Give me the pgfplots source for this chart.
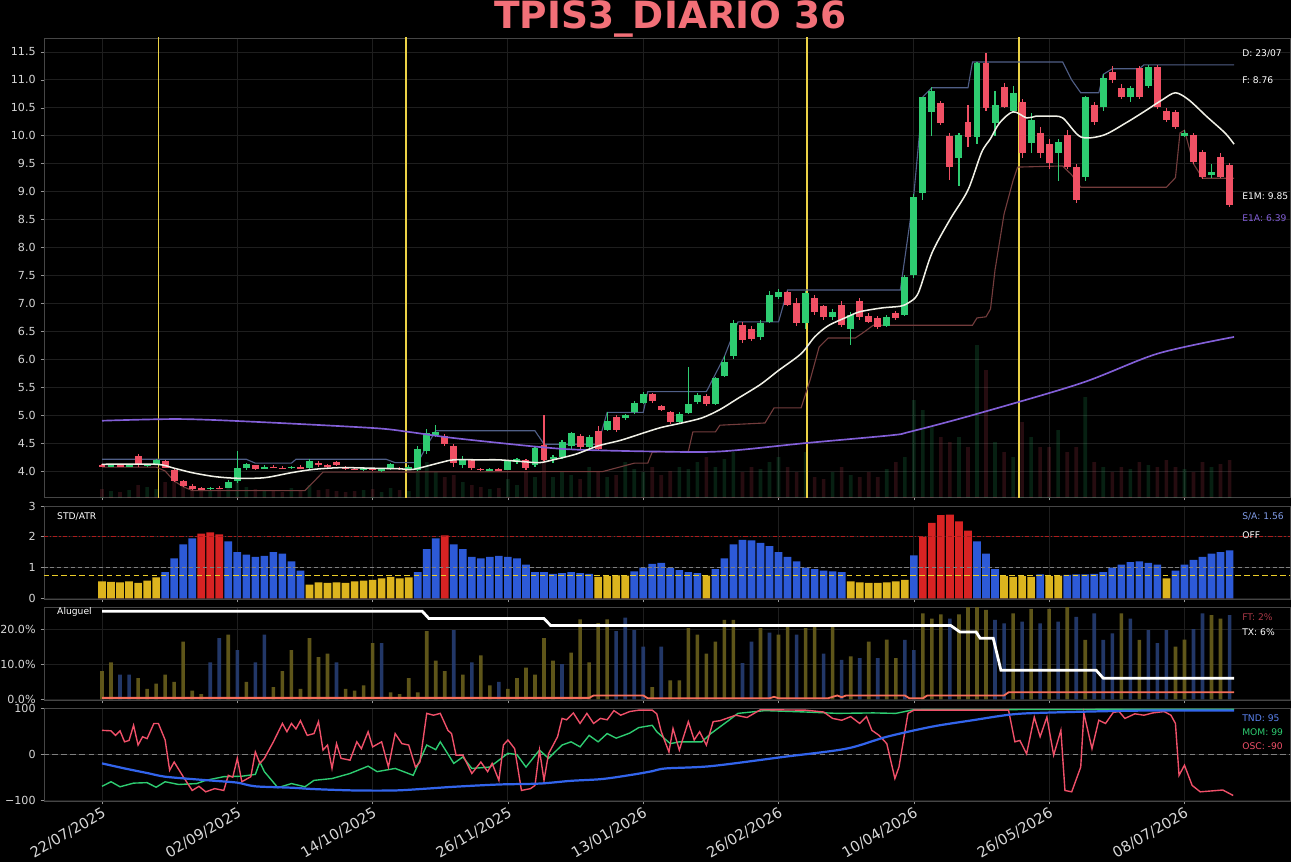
\documentclass[border=0pt]{standalone}
\usepackage{fontspec}
\setmainfont{DejaVu Sans}
\usepackage{pgfplots}
\usepackage{pgfplotstable}
\pgfplotsset{compat=1.18}
\definecolor{framec}{RGB}{70,70,70}
\definecolor{tickc}{RGB}{150,150,150}
\definecolor{gridc}{RGB}{30,30,30}
\definecolor{labelc}{RGB}{215,215,215}
\definecolor{cgreen}{RGB}{46,204,113}
\definecolor{cred}{RGB}{240,80,100}
\definecolor{emac}{RGB}{240,240,230}
\definecolor{purplec}{RGB}{130,95,215}
\definecolor{bandhi}{RGB}{80,95,135}
\definecolor{bandlo}{RGB}{115,60,60}
\definecolor{vlinec}{RGB}{235,210,70}
\definecolor{byel}{RGB}{220,180,30}
\definecolor{dashy}{RGB}{235,205,40}
\definecolor{bblue}{RGB}{45,90,215}
\definecolor{bred}{RGB}{215,35,35}
\definecolor{olivec}{RGB}{105,95,28}
\definecolor{dblue}{RGB}{38,62,115}
\definecolor{coralc}{RGB}{245,110,90}
\definecolor{tndc}{RGB}{50,100,235}
\definecolor{momc}{RGB}{46,204,113}
\definecolor{oscc}{RGB}{240,80,105}
\definecolor{titlec}{RGB}{242,112,120}
\newcommand{\tickfont}{\fontsize{8}{9.6}\selectfont}
\newcommand{\annofont}{\fontsize{6.6}{8}\selectfont}
\tikzset{anno/.style={anchor=west, inner sep=0pt, font=\annofont}}

\pgfplotstableread{
i o h l c v
0 4.10 4.13 4.07 4.09 8
2 4.09 4.12 4.07 4.10 6
4 4.10 4.12 4.08 4.09 5
6 4.09 4.11 4.07 4.10 7
8 4.27 4.30 4.08 4.10 12
10 4.10 4.13 4.08 4.12 10
12 4.12 4.22 4.11 4.20 8
14 4.18 4.20 4.05 4.06 15
16 4.02 4.04 3.80 3.82 20
18 3.82 3.84 3.72 3.74 12
20 3.74 3.76 3.66 3.68 10
22 3.69 3.71 3.66 3.68 8
24 3.68 3.72 3.66 3.70 6
26 3.70 3.73 3.67 3.69 9
28 3.70 3.84 3.69 3.80 10
30 3.82 4.35 3.78 4.05 18
32 4.05 4.14 4.02 4.12 10
34 4.10 4.11 4.02 4.04 8
36 4.04 4.10 4.03 4.08 6
38 4.08 4.10 4.05 4.07 7
40 4.06 4.09 4.03 4.05 5
42 4.05 4.09 4.04 4.08 9
44 4.07 4.10 4.04 4.05 6
46 4.05 4.21 4.04 4.18 12
48 4.15 4.18 4.08 4.10 7
50 4.10 4.12 4.06 4.08 8
52 4.16 4.18 4.09 4.10 6
54 4.08 4.09 4.02 4.04 5
56 4.04 4.06 4.01 4.03 6
58 4.02 4.06 4.00 4.05 7
60 4.04 4.06 4.00 4.02 8
62 4.02 4.05 3.98 4.03 5
64 4.03 4.14 4.02 4.12 9
66 4.06 4.08 4.02 4.04 7
68 4.04 4.10 4.01 4.08 6
70 4.02 4.45 4.00 4.40 30
72 4.35 4.75 4.30 4.68 35
74 4.64 4.82 4.60 4.70 25
76 4.62 4.66 4.44 4.48 20
78 4.45 4.48 4.08 4.15 22
80 4.10 4.26 4.05 4.22 15
82 4.20 4.22 4.02 4.05 12
84 4.04 4.06 4.00 4.02 10
86 4.02 4.05 4.00 4.03 8
88 4.03 4.05 4.00 4.02 9
90 4.02 4.20 4.01 4.18 18
92 4.16 4.24 4.12 4.22 12
94 4.20 4.22 4.02 4.05 25
96 4.10 4.45 4.08 4.42 20
98 4.46 5.00 4.18 4.20 40
100 4.22 4.28 4.15 4.25 20
102 4.25 4.55 4.22 4.52 25
104 4.45 4.70 4.40 4.68 22
106 4.62 4.66 4.40 4.43 18
108 4.43 4.65 4.40 4.60 30
110 4.72 4.80 4.36 4.40 25
112 4.74 5.05 4.72 4.90 20
114 4.96 5.00 4.70 4.74 22
116 4.95 5.02 4.92 5.00 35
118 5.05 5.25 5.02 5.22 28
120 5.22 5.42 5.20 5.38 25
122 5.38 5.40 5.22 5.25 30
124 5.16 5.18 5.08 5.10 22
126 5.05 5.08 4.84 4.87 26
128 4.88 5.05 4.85 5.02 30
130 5.04 5.86 5.02 5.20 28
132 5.24 5.40 5.20 5.36 35
134 5.34 5.38 5.16 5.20 40
136 5.20 5.68 5.18 5.66 30
138 5.70 6.05 5.68 5.95 38
140 6.05 6.70 6.00 6.65 45
142 6.62 6.66 6.30 6.35 25
144 6.55 6.60 6.32 6.36 30
146 6.40 6.70 6.35 6.65 28
148 6.67 7.22 6.65 7.15 35
150 7.12 7.25 7.08 7.20 40
152 7.20 7.22 6.95 6.98 30
154 7.00 7.10 6.60 6.65 25
156 6.65 7.22 6.55 7.18 45
158 7.10 7.15 6.80 6.85 20
160 6.95 6.98 6.70 6.75 18
162 6.75 6.90 6.70 6.85 25
164 6.98 7.05 6.58 6.62 30
166 6.55 6.85 6.25 6.80 22
168 7.05 7.10 6.70 6.76 20
170 6.78 6.82 6.65 6.67 25
172 6.74 6.78 6.55 6.58 20
174 6.60 6.80 6.58 6.76 28
176 6.82 6.86 6.70 6.74 35
178 6.80 7.50 6.78 7.48 40
180 7.50 8.95 7.45 8.90 97
182 8.97 10.70 8.85 10.69 87
184 10.43 10.88 10.00 10.80 70
186 10.59 10.62 10.20 10.23 60
188 10.00 10.05 9.20 9.44 55
190 9.60 10.05 9.10 10.01 60
192 10.25 10.55 9.80 9.98 50
194 9.98 11.32 9.85 11.30 152
196 11.30 11.48 10.45 10.50 127
198 10.23 10.80 10.00 10.55 55
200 10.87 10.95 10.50 10.52 45
202 10.45 10.90 10.40 10.77 40
204 10.60 10.65 9.60 9.69 75
206 9.87 10.40 9.70 10.28 60
208 10.05 10.15 9.60 9.69 50
210 9.85 9.95 9.40 9.51 50
212 9.69 9.95 9.20 9.89 67
214 10.01 10.10 9.40 9.44 45
216 9.44 9.50 8.80 8.85 50
218 9.26 10.72 9.20 10.69 100
220 10.55 10.60 10.20 10.25 35
222 10.51 11.10 10.45 11.03 30
224 11.14 11.25 10.95 11.00 25
226 10.86 10.92 10.65 10.69 30
228 10.69 10.90 10.60 10.86 28
230 11.21 11.25 10.65 10.69 35
232 10.90 11.26 10.85 11.23 32
234 11.23 11.26 10.48 10.51 30
236 10.45 10.50 10.25 10.28 37
238 10.43 10.46 10.12 10.16 30
240 10.00 10.10 9.98 10.05 28
242 10.01 10.05 9.50 9.53 25
244 9.71 9.75 9.22 9.26 35
246 9.30 9.50 9.25 9.35 30
248 9.62 9.70 9.24 9.26 33
250 9.48 9.52 8.72 8.76 37
}\candles

\pgfplotstableread{
i v k
0 .55 0
2 .54 0
4 .52 0
6 .55 0
8 .50 0
10 .58 0
12 .68 0
14 .85 1
16 1.30 1
18 1.75 1
20 1.95 1
22 2.10 2
24 2.14 2
26 2.08 2
28 1.85 1
30 1.50 1
32 1.42 1
34 1.35 1
36 1.38 1
38 1.50 1
40 1.45 1
42 1.20 1
44 0.90 1
46 .45 0
48 .52 0
50 .50 0
52 .52 0
54 .50 0
56 .55 0
58 .58 0
60 .60 0
62 .65 0
64 .70 0
66 .65 0
68 .68 0
70 .85 1
72 1.60 1
74 1.95 1
76 2.05 2
78 1.75 1
80 1.60 1
82 1.35 1
84 1.30 1
86 1.35 1
88 1.38 1
90 1.35 1
92 1.30 1
94 1.10 1
96 0.85 1
98 0.85 1
100 0.80 1
102 0.82 1
104 0.85 1
106 0.82 1
108 0.80 1
110 .70 0
112 .72 0
114 .75 0
116 .74 0
118 0.88 1
120 1.00 1
122 1.12 1
124 1.15 1
126 0.98 1
128 0.92 1
130 0.85 1
132 0.82 1
134 .74 0
136 0.95 1
138 1.30 1
140 1.75 1
142 1.90 1
144 1.88 1
146 1.80 1
148 1.70 1
150 1.50 1
152 1.35 1
154 1.20 1
156 1.00 1
158 0.95 1
160 0.90 1
162 0.88 1
164 0.85 1
166 .55 0
168 .52 0
170 .50 0
172 .50 0
174 .52 0
176 .55 0
178 .60 0
180 1.40 1
182 2.00 2
184 2.45 2
186 2.70 2
188 2.72 2
190 2.50 2
192 2.20 2
194 1.85 1
196 1.45 1
198 0.95 1
200 .72 0
202 .70 0
204 .72 0
206 .70 0
208 .78 1
210 .72 0
212 .74 0
214 .76 1
216 .78 1
218 .78 1
220 .80 1
222 .85 1
224 1.00 1
226 1.10 1
228 1.18 1
230 1.20 1
232 1.15 1
234 1.10 1
236 .65 0
238 0.90 1
240 1.10 1
242 1.25 1
244 1.35 1
246 1.45 1
248 1.50 1
250 1.56 1
}\stdatr

\pgfplotstableread{
i v k
0 8 0
2 10.5 0
4 7 1
6 7 1
8 6 0
10 3 0
12 4.5 0
14 7 0
16 5 0
18 16.4 0
20 2.5 0
22 1.5 0
24 10.5 1
26 17.4 1
28 18.4 0
30 14 1
32 5 0
34 10.5 1
36 18.4 1
38 3.5 0
40 8 0
42 14 0
44 3 0
46 17.4 0
48 12 0
50 13 0
52 10.5 1
54 3 0
56 2.5 0
58 4 0
60 16 0
62 16 1
64 2 0
66 1.5 0
68 6 0
70 2 0
72 19.4 0
74 11 0
76 8 0
78 19.7 1
80 7 0
82 10.5 1
84 12.5 0
86 4 0
88 5 1
90 3 0
92 6 0
94 9 0
96 7 0
98 17.4 0
100 11 0
102 10 1
104 13.3 0
106 22.8 0
108 10.5 0
110 21.7 0
112 22.8 0
114 19.4 1
116 23.3 1
118 19.7 1
120 15 1
122 3.5 0
124 15 1
126 5.4 0
128 5.4 0
130 20.3 0
132 18.4 0
134 13 0
136 16.4 0
138 22.6 0
140 22.6 0
142 10.3 1
144 16.4 1
146 20.3 0
148 19 1
150 18.4 0
152 21 0
154 18.4 1
156 20.3 0
158 21 0
160 13 1
162 21.3 0
164 11.2 1
166 12.2 0
168 11.7 1
170 16.4 0
172 11.7 1
174 17 0
176 11.7 0
178 16.9 1
180 14 1
182 24.5 0
184 23 0
186 24.2 0
188 23 1
190 24.2 0
192 26.3 0
194 26.3 0
196 25.5 0
198 22.6 1
200 21.6 1
202 24.5 0
204 22.1 1
206 25.8 0
208 21.6 1
210 25.8 0
212 22.1 1
214 26.3 0
216 23.5 1
218 16.9 0
220 24.5 1
222 16.9 1
224 18.8 1
226 24.5 0
228 23 1
230 16.9 0
232 19.7 1
234 16 1
236 19.7 1
238 15 0
240 17 0
242 20 1
244 24.5 1
246 24 0
248 23 0
250 24 1
}\aluguel

\pgfplotsset{
  panel/.style={
    scale only axis, width=897.12pt, xmin=-12.86, xmax=263.4,
    axis background/.style={fill=black},
    axis line style={draw=framec, line width=0.6pt},
    tick style={draw=tickc, line width=0.5pt},
    major tick length=2.5pt, tick align=outside, tick pos=left,
    xtick={0,30,...,240},
    xmajorgrids, ymajorgrids, grid style={draw=gridc, line width=0.7pt},
    ticklabel style={text=labelc, font=\tickfont},
    /pgf/number format/assume math mode=true,
    clip=true,
  },
}

\begin{document}
\begin{tikzpicture}
\useasboundingbox[fill=black] (-31.68pt,27.36pt) rectangle (897.84pt,-593.28pt);
\node[anchor=base, text=titlec, font=\fontsize{27}{30}\selectfont\bfseries] at (451.1pt,6.5pt) {TPIS3\_DIARIO 36};

% ---------- Panel 1: price ----------
\begin{axis}[panel, at={(0pt,0pt)}, anchor=north west, height=330.48pt,
  ymin=3.5346, ymax=11.7506, ytick={4,4.5,5,5.5,6,6.5,7,7.5,8,8.5,9,9.5,10,10.5,11,11.5},
  yticklabel style={/pgf/number format/.cd, fixed, fixed zerofill, precision=1},
  xticklabel=\empty]
% volume
\addplot[ybar, bar width=2.6pt, bar shift=0pt, draw=none, fill=cgreen, fill opacity=0.16, forget plot]
  table[x=i, y expr={\thisrow{c}<\thisrow{o} ? 0 : 3.5346+\thisrow{v}/55.87}] \candles;
\addplot[ybar, bar width=2.6pt, bar shift=0pt, draw=none, fill=cred, fill opacity=0.16, forget plot]
  table[x=i, y expr={\thisrow{c}<\thisrow{o} ? 3.5346+\thisrow{v}/55.87 : 0}] \candles;
% event lines
\addplot[vlinec, line width=0.9pt, mark=none] coordinates {(12.45,3.5) (12.45,12)};
\addplot[vlinec, line width=0.9pt, mark=none] coordinates {(67.4,3.5) (67.4,12)};
\addplot[vlinec, line width=0.9pt, mark=none] coordinates {(156.3,3.5) (156.3,12)};
\addplot[vlinec, line width=0.9pt, mark=none] coordinates {(203.3,3.5) (203.3,12)};
% bands
\addplot[bandhi, line width=0.8pt, mark=none] coordinates {(0,4.21) (32,4.21) (34,4.14) (42,4.14) (43,4.21) (63,4.21) (65,4.15) (70,4.15) (72,4.45) (74,4.72) (96,4.72) (98,4.48) (110,4.48) (112,5.05) (120,5.05) (121,5.42) (134,5.42) (138,6.05) (141,6.67) (150,6.67) (152,7.24) (177,7.24) (180,8.95) (182,10.7) (184,10.86) (192,10.86) (193,11.32) (213,11.32) (215,11.0) (217,10.77) (221,10.77) (222,11.1) (224,11.2) (230,11.2) (231,11.27) (251,11.27)};
\addplot[bandlo, line width=0.8pt, mark=none] coordinates {(0,4.07) (12,4.07) (14,4.0) (16,3.82) (18,3.72) (20,3.65) (45,3.65) (49,3.98) (111,3.99) (118,4.14) (121,4.14) (122,4.34) (130,4.35) (131,4.7) (136,4.7) (137,4.82) (147,4.86) (149,5.13) (155,5.13) (157,5.63) (159,6.22) (161,6.38) (167,6.38) (169,6.49) (171,6.61) (193,6.61) (194,6.74) (196,6.76) (197,6.9) (198,7.6) (200,8.6) (202,9.2) (203,9.44) (213,9.46) (215,9.3) (217,9.08) (236,9.08) (238,9.25) (239,10.05) (240,10.1) (242,9.5) (244,9.24) (251,9.24)};
% wicks
\addplot[draw=none, mark=none, forget plot, error bars/.cd, y dir=both, y explicit, error mark=none,
  error bar style={draw=cgreen, line width=0.8pt}]
  table[x=i, y expr={(\thisrow{h}+\thisrow{l})/2}, y error expr={\thisrow{c}<\thisrow{o} ? 0 : (\thisrow{h}-\thisrow{l})/2}] \candles;
\addplot[draw=none, mark=none, forget plot, error bars/.cd, y dir=both, y explicit, error mark=none,
  error bar style={draw=cred, line width=0.8pt}]
  table[x=i, y expr={(\thisrow{h}+\thisrow{l})/2}, y error expr={\thisrow{c}<\thisrow{o} ? (\thisrow{h}-\thisrow{l})/2 : 0}] \candles;
% bodies
\addplot[draw=none, mark=none, forget plot, error bars/.cd, y dir=both, y explicit, error mark=none,
  error bar style={draw=cgreen, line width=5pt}]
  table[x=i, y expr={(\thisrow{o}+\thisrow{c})/2}, y error expr={\thisrow{c}<\thisrow{o} ? 0 : (\thisrow{c}-\thisrow{o})/2}] \candles;
\addplot[draw=none, mark=none, forget plot, error bars/.cd, y dir=both, y explicit, error mark=none,
  error bar style={draw=cred, line width=5pt}]
  table[x=i, y expr={(\thisrow{o}+\thisrow{c})/2}, y error expr={\thisrow{c}<\thisrow{o} ? (\thisrow{o}-\thisrow{c})/2 : 0}] \candles;
% long EMA
\addplot[purplec, line width=1.2pt, smooth, mark=none] coordinates {(0,4.9) (17,4.93) (34,4.88) (60,4.77) (68,4.70) (78,4.59) (97,4.43) (106,4.38) (122,4.35) (137,4.35) (156,4.5) (175,4.64) (179,4.7) (193,5.0) (217,5.57) (234,6.1) (251,6.4)};
% short EMA
\addplot[emac, line width=1.1pt, smooth, mark=none] coordinates {(0,4.12) (12,4.12) (16,4.05) (20,3.97) (25,3.90) (30,3.87) (36,3.88) (42,3.97) (47,4.03) (53,4.06) (60,4.05) (66,4.04) (69,4.03) (75,4.15) (78,4.20) (84,4.20) (88,4.20) (93,4.17) (97,4.15) (100,4.20) (105,4.30) (110,4.45) (115,4.55) (120,4.68) (124,4.78) (128,4.85) (133,4.95) (137,5.10) (141,5.30) (146,5.55) (150,5.80) (155,6.10) (158,6.40) (161,6.60) (165,6.75) (168,6.85) (173,6.92) (177,6.95) (179,7.02) (181,7.19) (184,7.90) (188,8.50) (192,9.03) (195,9.70) (197,9.95) (199,10.23) (202,10.43) (205,10.32) (207,10.35) (210,10.35) (213,10.32) (217,9.98) (222,10.01) (227,10.23) (231,10.43) (235,10.64) (238,10.77) (241,10.64) (245,10.34) (249,10.05) (251,9.85)};
\node[anno, text=white] at (rel axis cs:0.9615,0.967) {D: 23/07};
\node[anno, text=white] at (rel axis cs:0.9615,0.9085) {F: 8.76};
\node[anno, text=white] at (rel axis cs:0.9615,0.6558) {E1M: 9.85};
\node[anno, text=purplec] at (rel axis cs:0.9615,0.6078) {E1A: 6.39};
\end{axis}

% ---------- Panel 2: STD/ATR ----------
\begin{axis}[panel, at={(0pt,-336.96pt)}, anchor=north west, height=66.96pt,
  ymin=-0.02, ymax=3, ytick={0,1,2,3}, xticklabel=\empty]
\addplot[ybar, bar width=5.5pt, bar shift=0pt, draw=none, fill=byel] table[x=i, y expr={\thisrow{k}==0 ? \thisrow{v} : 0}] \stdatr;
\addplot[ybar, bar width=5.5pt, bar shift=0pt, draw=none, fill=bblue] table[x=i, y expr={\thisrow{k}==1 ? \thisrow{v} : 0}] \stdatr;
\addplot[ybar, bar width=5.5pt, bar shift=0pt, draw=none, fill=bred] table[x=i, y expr={\thisrow{k}==2 ? \thisrow{v} : 0}] \stdatr;
\addplot[bred!80!black, line width=0.7pt, dash pattern=on 3pt off 1.5pt on 1pt off 1.5pt, mark=none] coordinates {(-13,2) (264,2)};
\addplot[gray, line width=0.7pt, dash pattern=on 3pt off 2pt, mark=none] coordinates {(-13,1) (264,1)};
\addplot[dashy, line width=1pt, dash pattern=on 4pt off 2.5pt, mark=none] coordinates {(-13,0.75) (264,0.75)};
\node[anno, text=white] at (rel axis cs:0.0104,0.892) {STD/ATR};
\node[anno, text=bblue!60!white] at (rel axis cs:0.9615,0.892) {S/A: 1.56};
\node[anno, text=white] at (rel axis cs:0.9615,0.688) {OFF};
\end{axis}

% ---------- Panel 3: Aluguel ----------
\begin{axis}[panel, at={(0pt,-409.68pt)}, anchor=north west, height=66.96pt,
  ymin=-0.2, ymax=26.3, ytick={0,10,20}, yticklabels={0.0\%,10.0\%,20.0\%}, xticklabel=\empty]
\addplot[ybar, bar width=2.6pt, bar shift=0pt, draw=none, fill=olivec, fill opacity=0.9] table[x=i, y expr={\thisrow{k}==0 ? \thisrow{v} : 0}] \aluguel;
\addplot[ybar, bar width=2.6pt, bar shift=0pt, draw=none, fill=dblue, fill opacity=0.9] table[x=i, y expr={\thisrow{k}==1 ? \thisrow{v} : 0}] \aluguel;
\addplot[coralc, line width=1.3pt, mark=none] coordinates {(0,0.4) (108,0.4) (109,1.1) (120,1.1) (121,0.3) (148,0.3) (149,0.7) (150,0.3) (161,0.3) (163,1.1) (164,0.6) (165,1.1) (178,1.1) (179,0.3) (182,0.3) (183,1.1) (200,1.1) (201,2.0) (251,2.0)};
\addplot[white, line width=2pt, mark=none] coordinates {(0,25.1) (71,25.1) (72.5,23.0) (98,23.0) (99.5,21.0) (188.2,21.0) (190.2,19.2) (193.8,19.2) (194.7,17.4) (197.6,17.4) (199.3,8.3) (220.4,8.3) (222,6.0) (251,6.0)};
\node[anno, text=white] at (rel axis cs:0.0104,0.946) {Aluguel};
\node[anno, text=cred!70!black] at (rel axis cs:0.9615,0.892) {FT: 2\%};
\node[anno, text=white] at (rel axis cs:0.9615,0.731) {TX: 6\%};
\end{axis}

% ---------- Panel 4: oscillators ----------
\begin{axis}[panel, at={(0pt,-482.4pt)}, anchor=north west, height=66.96pt,
  ymin=-102, ymax=100.7, ytick={-100,0,100}, yticklabels={−100,0,100},
  xticklabels={22/07/2025,02/09/2025,14/10/2025,26/11/2025,13/01/2026,26/02/2026,10/04/2026,26/05/2026,08/07/2026},
  xticklabel style={rotate=30, anchor=north east, font=\fontsize{10.5}{12}\selectfont, inner sep=1pt}]
\addplot[gray, line width=0.8pt, dash pattern=on 4pt off 2.5pt, mark=none] coordinates {(-13,0) (264,0)};
\addplot[momc, line width=1pt, mark=none] coordinates {(0,-70) (2,-60) (4,-71) (7,-63) (10,-62) (12,-72) (14,-60) (17,-66) (21,-64) (23,-57) (27,-49) (31,-48) (34,-44) (35,-17) (36,-38) (39,-73) (42,-64) (45,-71) (47,-57) (51,-53) (55,-42) (59,-26) (61,-38) (65,-31) (69,-46) (72,20) (74,10) (75,27) (78,-20) (80,-6) (82,-31) (86,-28) (90,2) (92,-1) (94,-28) (97,9) (99,-9) (102,20) (104,27) (106,16) (108,41) (110,27) (112,45) (114,35) (117,46) (119,58) (122,63) (123,49) (126,23) (128,27) (133,27) (135,45) (139,74) (141,89) (147,95) (156,92) (163,89) (171,90) (176,89) (180,97) (251,98)};
\addplot[oscc, line width=1pt, mark=none] coordinates {(0,52) (2,51) (3,41) (4,51) (5,27) (6,30) (7,63) (8,20) (9,38) (10,34) (11.5,67) (12.5,67) (14,31) (15,-35) (16,-17) (18,-49) (20,-79) (21.5,-70) (23,-82) (25,-75) (27,-79) (28,-46) (29,-50) (30,-9) (31,-60) (33,-49) (34,5) (35,-20) (36,-9) (38,27) (40,67) (41,49) (42,67) (43,55) (44,73) (45.5,41) (47,45) (48,71) (49,9) (50,20) (51,-31) (52,23) (53,-9) (55,-13) (56.5,27) (57.5,12) (59,49) (60,16) (62,27) (63.5,-28) (65,45) (66.5,23) (68,20) (69.5,-28) (70.5,-17) (72,89) (73.5,85) (75,89) (76.7,52) (77.5,45) (78.5,-2) (80,-2) (82,-42) (84,-17) (85.5,-38) (86.5,-20) (88,-57) (89,20) (90,31) (91.5,12) (93,-79) (95,-75) (96,-68) (97,9) (98,-57) (99,1) (101,38) (102,78) (103,75) (104.5,90) (106,67) (107.5,89) (109,67) (110.5,78) (112,75) (113.5,95) (115,85) (117,93) (119,96) (122,96) (123,88) (124,49) (125.7,5) (126.6,56) (128,9) (130,71) (131.3,31) (132.5,49) (134,20) (135.5,71) (137,73) (140.5,85) (143,80) (146,97) (156,96) (160,92) (162,78) (164,74) (166,82) (168,67) (169.5,82) (170.7,52) (172.3,41) (174,23) (175.8,-53) (176.7,-28) (178.7,89) (180,96) (201,96) (202.4,27) (203.5,30) (205,1) (206.7,81) (208,38) (209.5,81) (211,-2) (212.6,52) (213.5,-79) (215,-82) (217,-28) (217.7,89) (219.5,12) (221,74) (222.5,67) (224.2,91) (225.5,93) (226.8,78) (229,88) (231,85) (233,90) (235.5,93) (237,85) (238,67) (238.8,-46) (240,-24) (241.7,-68) (243.5,-82) (247.3,-79) (248.5,-78) (250.8,-90)};
\addplot[tndc, line width=1.6pt, smooth, mark=none] coordinates {(0,-20) (5,-31) (10,-41) (14,-49) (21,-55) (25,-58) (30,-62) (34,-70) (42,-73) (47,-76) (56,-79) (65,-79) (72,-75) (78,-71) (88,-66) (97,-64) (104,-58) (111,-54) (118,-44) (122,-37) (125,-31) (135,-26) (151,-6) (165,12) (174,38) (184,60) (193,74) (202,87) (211,91) (230,95) (251,95)};
\node[anno, text=tndc!80!white] at (rel axis cs:0.9615,0.892) {TND: 95};
\node[anno, text=momc] at (rel axis cs:0.9615,0.742) {MOM: 99};
\node[anno, text=oscc] at (rel axis cs:0.9615,0.591) {OSC: -90};
\end{axis}
\end{tikzpicture}
\end{document}
